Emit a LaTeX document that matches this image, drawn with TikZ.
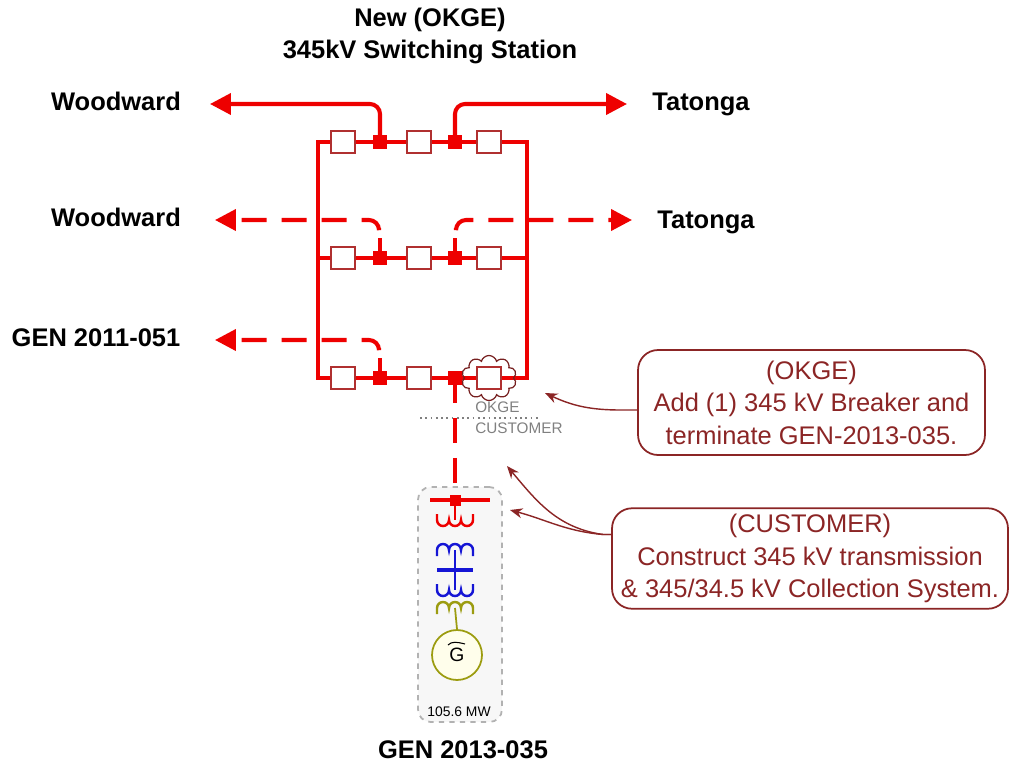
\documentclass[tikz,border=0pt]{standalone}
\usepackage{fontspec}
\setmainfont{Liberation Sans}
\usetikzlibrary{arrows.meta, shapes.symbols}
\definecolor{busred}{HTML}{EE0000}
\definecolor{brkred}{HTML}{B03030}
\definecolor{notered}{HTML}{8B2525}
\definecolor{genolive}{HTML}{9C9C10}
\definecolor{xfblue}{HTML}{1515D5}
\tikzstyle{bus} = [busred, line width=2.3pt]
\tikzstyle{feed} = [bus, -{Triangle[length=0.42cm,width=0.42cm]}, rounded corners=0.2cm]
\tikzstyle{future} = [feed, dash pattern=on 0.5cm off 0.3cm]
\tikzstyle{brk} = [rectangle, minimum width=0.48cm, minimum height=0.44cm, draw=brkred, fill=white, line width=0.8pt, inner sep=0pt]
\tikzstyle{jn} = [rectangle, minimum size=0.28cm, fill=busred, inner sep=0pt]
\tikzstyle{lbl} = [font=\fontsize{14.5}{18}\selectfont\bfseries]
\tikzstyle{side} = [lbl, text height=0.72em, text depth=0em]
\tikzstyle{tag} = [gray, font=\fontsize{8.7}{10}\selectfont, anchor=west, inner sep=0pt]
\tikzstyle{note} = [rectangle, rounded corners=0.4cm, draw=notered, line width=1pt, text=notered, align=center, font=\fontsize{14.5}{18.5}\selectfont]
\tikzstyle{callout} = [notered, line width=0.8pt, -{Stealth[length=0.25cm,width=0.2cm]}]
\tikzstyle{coil} = [line width=1.4pt]

\begin{document}
\begin{tikzpicture}[x=0.02cm, y=-0.02cm]
\useasboundingbox (0,0) rectangle (1011,768);

% labels
\node (title) [lbl, align=center] at (430,36) {New (OKGE)\\345kV Switching Station};
\node (wood1) [side] at (116,104) {Woodward};
\node (tat1) [side] at (701,104) {Tatonga};
\node (wood2) [side] at (116,220) {Woodward};
\node (tat2) [side] at (706,222) {Tatonga};
\node (gen11) [side] at (96,340) {GEN 2011-051};
\node (gen13) [side] at (463,752) {GEN 2013-035};

% generator box (background)
\node (genbox) [draw=gray!60, dashed, rounded corners=0.25cm, fill=gray!6, line width=1pt, minimum width=1.68cm, minimum height=4.7cm] at (460,604.5) {};

% switching station
\coordinate (w1) at (318,142);
\coordinate (e1) at (527,142);
\coordinate (w3) at (318,378);
\coordinate (e3) at (527,378);
\draw[bus] (w1) -- (e1) -- (e3) -- (w3) -- cycle;
\foreach \r/\y in {1/142, 2/258, 3/378} {
  \coordinate (w\r) at (318,\y);
  \coordinate (e\r) at (527,\y);
  \draw[bus] (w\r) -- (e\r);
  \node (b\r1) [brk] at (343,\y) {};
  \node (j\r1) [jn] at (380,\y) {};
  \node (b\r2) [brk] at (419,\y) {};
  \node (j\r2) [jn] at (455,\y) {};
  \node (b\r3) [brk] at (489,\y) {};
}

% feeders
\coordinate (ww1) at (210,104);
\coordinate (tt1) at (627,104);
\draw[feed] (j11.center) |- (ww1);
\draw[feed] (j12.center) |- (tt1);

\coordinate (s21) at (380,238);
\coordinate (s22) at (455,238);
\coordinate (k21) at (379,228);
\coordinate (k22) at (456,228);
\coordinate (ww2) at (215,220);
\coordinate (tt2) at (632,220);
\draw[bus] (j21.center) -- (s21);
\draw[bus] (j22.center) -- (s22);
\draw[future] (k21) |- (ww2);
\draw[future] (k22) |- (tt2);

\coordinate (s31) at (380,358);
\coordinate (k31) at (379,348);
\coordinate (ww3) at (215,340);
\draw[bus] (j31.center) -- (s31);
\draw[future] (k31) |- (ww3);

% new breaker
\node (cl) [cloud, cloud puffs=10, draw=notered!85!black, line width=0.7pt, minimum width=1.1cm, minimum height=0.9cm, inner sep=0pt] at (489,378) {};
\node (okgetag) [tag] at (475,407) {OKGE};
\node (custtag) [tag] at (475,428) {CUSTOMER};
\coordinate (dl) at (420,418);
\coordinate (dr) at (540,418);
\draw[gray, dotted, line width=1pt] (dl) -- (dr);

% customer line and generator
\coordinate (gbus) at (455,500);
\coordinate (gl) at (430,500);
\coordinate (gr) at (490,500);
\draw[bus, dash pattern=on 0.5cm off 0.3cm] (j32.center) -- (gbus);
\draw[bus] (gl) -- (gr);
\node (gj) [jn, minimum size=0.22cm] at (gbus) {};
\draw[busred, coil] (gbus) -- (455,520);
\draw[busred, coil] (437,514) -- (437,520) arc[start angle=180, end angle=0, radius=6]
  arc[start angle=180, end angle=0, radius=6] arc[start angle=180, end angle=0, radius=6] -- (473,514);
\draw[xfblue, coil] (437,556) -- (437,550) arc[start angle=180, end angle=360, radius=6]
  arc[start angle=180, end angle=360, radius=6] arc[start angle=180, end angle=360, radius=6] -- (473,556);
\draw[xfblue, coil] (455,550) -- (455,590);
\draw[xfblue, line width=2.3pt] (437,570) -- (473,570);
\draw[xfblue, coil] (437,584) -- (437,590) arc[start angle=180, end angle=0, radius=6]
  arc[start angle=180, end angle=0, radius=6] arc[start angle=180, end angle=0, radius=6] -- (473,584);
\draw[genolive, coil] (437,614) -- (437,608) arc[start angle=180, end angle=360, radius=6]
  arc[start angle=180, end angle=360, radius=6] arc[start angle=180, end angle=360, radius=6] -- (473,614);
\node (gen) [circle, draw=genolive, fill=yellow!8, line width=1pt, minimum size=1cm, inner sep=0pt, font=\fontsize{11}{12}\selectfont] at (457,655) {\raisebox{-2pt}{G}};
\draw[genolive, line width=1pt] (455,608) -- (gen.north);
\draw[line width=0.6pt] (448,645) .. controls (452,641) and (457,642) .. (465,644);
\node (mw) [font=\fontsize{7.9}{9}\selectfont] at (459,712) {105.6 MW};

% notes
\node (okgenote) [note, minimum width=6.94cm, minimum height=2.1cm] at (811.5,402.5) {(OKGE)\\Add (1) 345 kV Breaker and\\terminate GEN-2013-035.};
\node (custnote) [note, minimum width=7.92cm, minimum height=1.86cm] at (810,558.5) {(CUSTOMER)\\Construct 345 kV transmission\\\& 345/34.5 kV Collection System.};

\coordinate (okgeto) at (545,393);
\coordinate (custto1) at (507,466);
\coordinate (custto2) at (510,510);
\draw[callout] ([yshift=-0.15cm]okgenote.west) -- ++(-16,0) to[out=180, in=-25] (okgeto);
\draw[callout] ([yshift=0.48cm]custnote.west) -- ++(-8,0) to[out=172, in=-50] (custto1);
\draw[callout] ([yshift=0.48cm]custnote.west) -- ++(-8,0) to[out=175, in=-15] (custto2);
\end{tikzpicture}
\end{document}
